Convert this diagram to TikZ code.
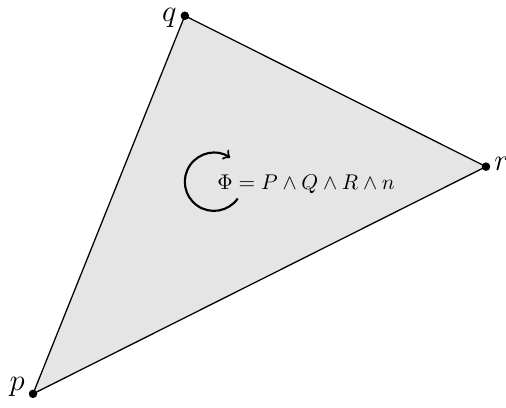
\documentclass[tikz,border=0pt]{standalone}
\usepackage{amsmath}
\usepackage{xcolor}
\usetikzlibrary{arrows}
\definecolor{facegray}{RGB}{229,229,229}

\begin{document}
\begin{tikzpicture}[scale=1,
  vertex/.style={circle, fill=black, inner sep=0pt, minimum size=4pt},
  vlabel/.style={font=\Large, inner sep=0pt}]
 \useasboundingbox (0,0) rectangle (8.35,6.73);

 \coordinate (p) at (0.545,0.231);
 \coordinate (q) at (3.05,6.47);
 \coordinate (r) at (8.02,3.98);
 \coordinate (C) at (3.53,3.73);

 %face:
 \filldraw[fill=facegray, line width=0.6pt] (p) -- (q) -- (r) -- cycle;

 %orientation
 \draw[->, line width=1pt] (C) ++(-35:0.48) arc[start angle=-35, end angle=-304, radius=0.48];
 \node[anchor=base west, inner sep=0pt] (Phi) at (3.58,3.61) {$\Phi = P \wedge Q \wedge R \wedge n$};

 %vertices
 \node[vertex] (pdot) at (p) {};
 \node[vertex] (qdot) at (q) {};
 \node[vertex] (rdot) at (r) {};
 \node[vlabel, anchor=base east] (plab) at ([xshift=-1.5pt, yshift=1.5pt]pdot.west) {$p$};
 \node[vlabel, anchor=base east] (qlab) at ([xshift=-1.5pt, yshift=-2.5pt]qdot.west) {$q$};
 \node[vlabel, anchor=base west] (rlab) at ([xshift=1.5pt, yshift=-2pt]rdot.east) {$r$};
\end{tikzpicture}
\end{document}
